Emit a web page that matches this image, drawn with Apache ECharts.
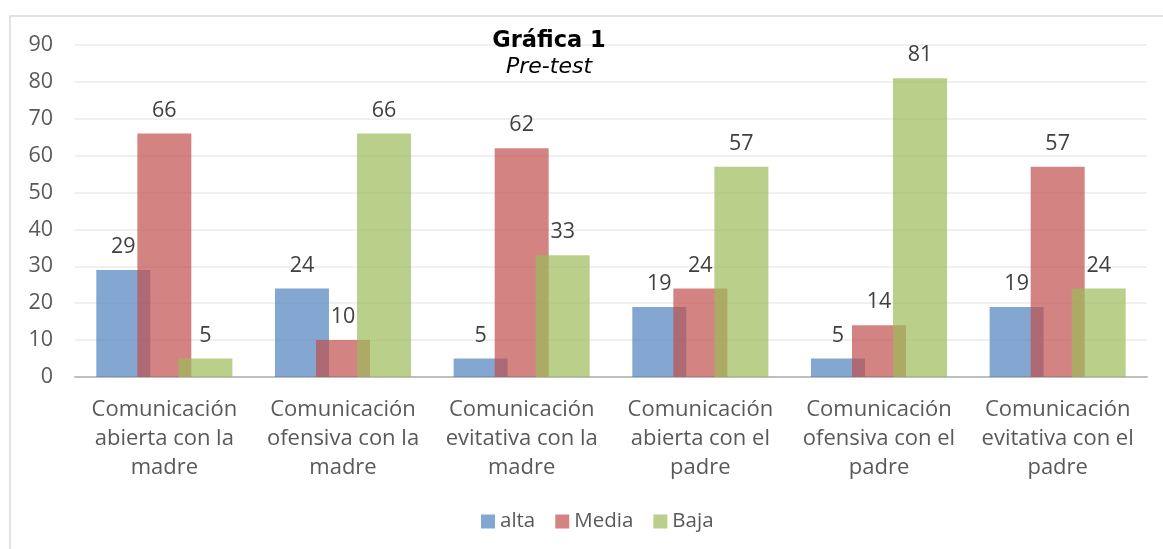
<!DOCTYPE html>
<html>
<head>
<meta charset="utf-8">
<script src="https://cdn.jsdelivr.net/npm/echarts@6/dist/echarts.min.js"></script>
<style>
html,body{margin:0;padding:0;background:#fff;}
#chart{width:1163px;height:549px;}
</style>
</head>
<body>
<div id="chart"></div>
<script>
const categories = [
  "Comunicación\nabierta con la\nmadre",
  "Comunicación\nofensiva con la\nmadre",
  "Comunicación\nevitativa con la\nmadre",
  "Comunicación\nabierta con el\npadre",
  "Comunicación\nofensiva con el\npadre",
  "Comunicación\nevitativa con el\npadre"
];
const alta = [29, 24, 5, 19, 5, 19];
const media = [66, 10, 62, 24, 14, 57];
const baja = [5, 66, 33, 57, 81, 24];
const seriesNames = ["alta", "Media", "Baja"];
const yTicks = [0, 10, 20, 30, 40, 50, 60, 70, 80, 90];

const FONT = '"Open Sans", sans-serif';
const colors = ["rgba(79,129,189,0.7)", "rgba(192,80,77,0.7)", "rgba(155,187,89,0.7)"];

function mk(name, data, color) {
  return {
    name: name,
    type: 'bar',
    data: data,
    barWidth: 54,
    barGap: '-24%',
    itemStyle: { color: color },
    label: {
      show: true,
      position: 'top',
      distance: 12,
      color: '#404040',
      fontSize: 21.5,
      fontFamily: FONT
    }
  };
}

const chart = echarts.init(document.getElementById('chart'), null, { renderer: 'canvas' });
chart.setOption({
  backgroundColor: '#fff',
  animation: false,
  graphic: [{
    type: 'rect',
    shape: { x: 10, y: 16, width: 1160, height: 545 },
    style: { fill: 'none', stroke: '#D9D9D9', lineWidth: 1.5 },
    silent: true
  }],
  title: {
    text: 'Gráfica 1',
    subtext: 'Pre-test',
    left: 544,
    top: 25,
    textAlign: 'center',
    itemGap: 3,
    textStyle: { fontFamily: '"DejaVu Sans", sans-serif', fontWeight: 'bold', fontSize: 22.5, color: '#000' },
    subtextStyle: { fontFamily: '"DejaVu Sans", sans-serif', fontStyle: 'italic', fontSize: 22, color: '#000' }
  },
  legend: {
    data: seriesNames,
    bottom: 12,
    left: 476,
    itemWidth: 14,
    itemHeight: 14,
    itemGap: 20,
    icon: 'rect',
    textStyle: { fontFamily: FONT, fontSize: 20.5, color: '#595959' }
  },
  grid: { left: 75, right: 16, top: 45, bottom: 172 },
  xAxis: {
    type: 'category',
    data: categories,
    axisLine: { lineStyle: { color: '#BFBFBF', width: 2 } },
    axisTick: { show: false },
    axisLabel: { fontFamily: FONT, fontSize: 22, color: '#595959', lineHeight: 29, margin: 18, interval: 0 }
  },
  yAxis: {
    type: 'value',
    min: yTicks[0],
    max: yTicks[yTicks.length - 1],
    interval: 10,
    axisLine: { show: false },
    axisTick: { show: false },
    splitLine: { lineStyle: { color: '#EBEBEB', width: 1.5 } },
    axisLabel: { fontFamily: FONT, fontSize: 21.5, color: '#595959', margin: 22 }
  },
  series: [
    mk(seriesNames[0], alta, colors[0]),
    mk(seriesNames[1], media, colors[1]),
    mk(seriesNames[2], baja, colors[2])
  ]
});
</script>
</body>
</html>
